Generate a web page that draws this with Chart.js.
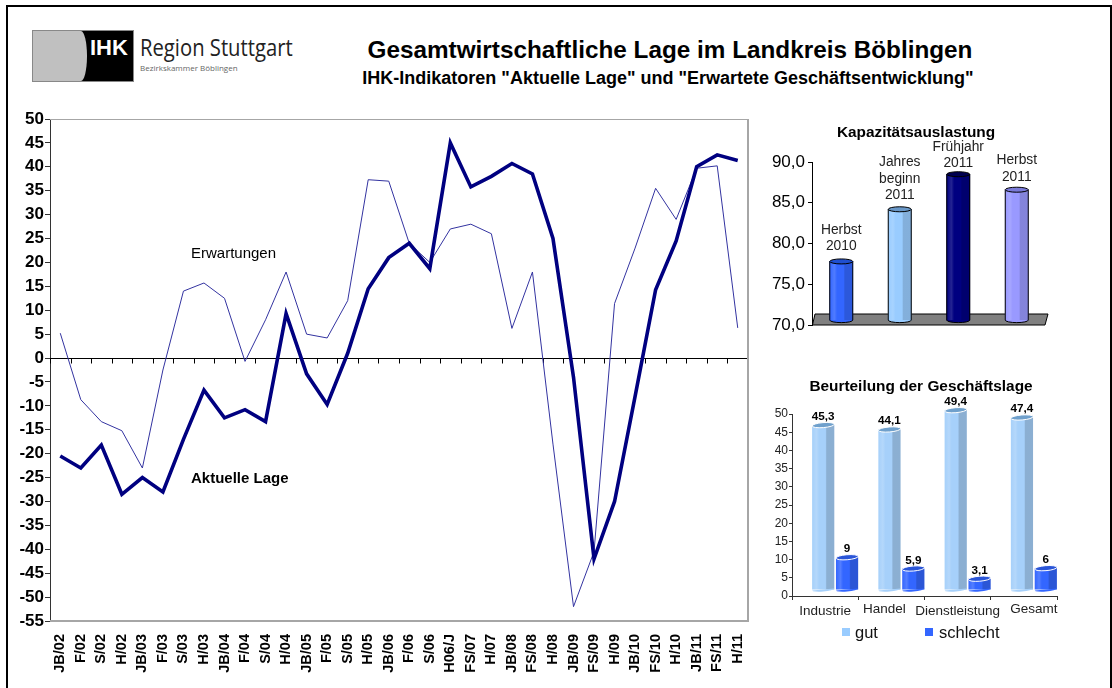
<!DOCTYPE html>
<html lang="de">
<head>
<meta charset="utf-8">
<title>Gesamtwirtschaftliche Lage im Landkreis Böblingen</title>
<script src="https://cdn.jsdelivr.net/npm/chart.js@4/dist/chart.umd.js"></script>
<style>
    html, body { margin: 0; padding: 0; background: #fff; }
    body { width: 1112px; height: 688px; position: relative; overflow: hidden; font-family: "Liberation Sans", Arial, sans-serif; color: #000; }
    .frame { position: absolute; left: 6px; top: 5px; width: 1102px; height: 700px; border: 2px solid #000; }
    .logo { position: absolute; left: 32px; top: 30px; width: 100px; height: 50px; background: #000; border: 1px solid #888; }
    .logo .grey { position: absolute; left: 0; top: 0; width: 54px; height: 50px; background: #c0c0c0; border-radius: 0 6px 6px 0 / 0 25px 25px 0; }
    .logo .ihk { position: absolute; left: 57px; top: 4px; color: #fff; font: bold 22px "Liberation Sans", Arial, sans-serif; }
    .region { position: absolute; left: 140px; top: 32px; font: 23px "Open Sans", sans-serif; transform: scaleX(.88); transform-origin: left; color: #222; white-space: nowrap; line-height: 30px; }
    .kammer { position: absolute; left: 140px; top: 62px; font: 8px "Open Sans", sans-serif; color: #666; white-space: nowrap; }
    .title { position: absolute; left: 302px; width: 736px; top: 37px; text-align: center; font-weight: bold; font-size: 24.3px; line-height: 26px; white-space: nowrap; }
    .subtitle { position: absolute; left: 300px; width: 736px; top: 69px; text-align: center; font-weight: bold; font-size: 18px; line-height: 18px; white-space: nowrap; }
    canvas { position: absolute; }
    .lbl { position: absolute; font-size: 15px; line-height: 16px; white-space: nowrap; }
    .ctitle { position: absolute; font-weight: bold; font-size: 15.4px; line-height: 16px; white-space: nowrap; text-align: center; }
    .legend { position: absolute; font-size: 16.5px; line-height: 18px; color: #111; white-space: nowrap; }
    .swatch { position: absolute; width: 8px; height: 8px; }
</style>
</head>
<body>
<div class="frame"></div>
<div class="logo"><div class="grey"></div><div class="ihk">IHK</div></div>
<div class="region">Region Stuttgart</div>
<div class="kammer">Bezirkskammer Böblingen</div>
<div class="title">Gesamtwirtschaftliche Lage im Landkreis Böblingen</div>
<div class="subtitle">IHK-Indikatoren "Aktuelle Lage" und "Erwartete Geschäftsentwicklung"</div>

<canvas id="mainChart" style="left:0;top:100px" width="760" height="580"></canvas>
<canvas id="capChart" style="left:750px;top:130px" width="360" height="205"></canvas>
<canvas id="judgeChart" style="left:750px;top:390px" width="330" height="235"></canvas>

<div class="lbl" style="left:191px;top:245px">Erwartungen</div>
<div class="lbl" style="left:191px;top:470px;font-weight:bold">Aktuelle Lage</div>
<div class="ctitle" style="left:826px;top:124px;width:180px">Kapazitätsauslastung</div>
<div class="ctitle" style="left:781px;top:378px;width:280px">Beurteilung der Geschäftslage</div>
<div class="swatch" style="left:842px;top:628px;background:#99ccff"></div>
<div class="legend" style="left:855px;top:623px">gut</div>
<div class="swatch" style="left:925px;top:628px;background:#3366ff"></div>
<div class="legend" style="left:939px;top:623px">schlecht</div>

<script>
// Hauptdiagramm
const quarters = ['JB/02','F/02','S/02','H/02','JB/03','F/03','S/03','H/03','JB/04','F/04','S/04','H/04','JB/05','F/05','S/05','H/05','JB/06','F/06','S/06','H06/J','FS/07','H/07','JB/08','FS/08','H/08','JB/09','FS/09','H/09','JB/10','FS/10','H/10','JB/11','FS/11','H/11'];
const aktuelleLage = [-20.5,-23,-18.2,-28.5,-25,-28,-17,-6.7,-12.5,-10.8,-13.3,9.3,-3.3,-9.7,1,14.5,21,24,18.7,45,35.8,38,40.7,38.5,25,-4,-42,-30,-8,14.3,24.5,40,42.5,41.3];
const erwartungen = [5.2,-8.7,-13.3,-15.2,-23,-2.5,14,15.7,12.5,-0.7,8,18,5,4.2,12,37.3,37,24,20,27,28,26,6.2,18,-18,-52,-40.5,11.4,23,35.5,29,39.7,40.2,6.3];

// Kapazitätsauslastung
const capLabels = [['Herbst','2010'],['Jahres','beginn','2011'],['Frühjahr','2011'],['Herbst','2011']];
const capValues = [77.8,84.2,88.5,86.6];
const capColors = ['#3366ff','#99ccff','#000080','#9999ff'];
const capTopColors = ['#1f4fd0','#6a98c8','#000050','#7a7ad8'];
const capLabelGap = [11,10,7,9];
const capTicks = [70,75,80,85,90];

// Beurteilung der Geschäftslage
const sectors = ['Industrie','Handel','Dienstleistung','Gesamt'];
const gut = [45.3,44.1,49.4,47.4];
const schlecht = [9,5.9,3.1,6];

const font = 'Liberation Sans, Arial, sans-serif';

// Helle und dunkle Streifen über den Balken, damit er wie ein Zylinder wirkt
function shadeBar(ctx, bar, strength) {
    const x0 = bar.x - bar.width / 2;
    const g = ctx.createLinearGradient(x0, 0, x0 + bar.width, 0);
    g.addColorStop(0, 'rgba(255,255,255,0)');
    g.addColorStop(0.2, `rgba(255,255,255,${strength})`);
    g.addColorStop(0.32, 'rgba(255,255,255,0)');
    g.addColorStop(0.6, 'rgba(0,0,0,0)');
    g.addColorStop(0.66, `rgba(0,0,0,${strength})`);
    g.addColorStop(1, `rgba(0,0,0,${strength})`);
    ctx.fillStyle = g;
    ctx.fillRect(x0, bar.y, bar.width, bar.base - bar.y);
}

// Hauptdiagramm: Nulllinie mit Strichen, grauer Rahmen
const zeroLine = {
    id: 'zeroLine',
    beforeDatasetsDraw(chart) {
        const {ctx, chartArea, scales} = chart;
        const y0 = Math.round(scales.y.getPixelForValue(0)) + 0.5;
        ctx.save();
        ctx.strokeStyle = '#000';
        ctx.lineWidth = 1;
        ctx.beginPath();
        ctx.moveTo(chartArea.left, y0);
        ctx.lineTo(chartArea.right, y0);
        for (let i = 0; i <= quarters.length; i++) {
            const x = Math.round(chartArea.left + i * (chartArea.right - chartArea.left) / quarters.length) + 0.5;
            ctx.moveTo(x, y0);
            ctx.lineTo(x, y0 + 5);
        }
        ctx.stroke();
        ctx.strokeStyle = '#a6a6a6';
        ctx.lineWidth = 2;
        ctx.beginPath();
        ctx.moveTo(chartArea.right, chartArea.top);
        ctx.lineTo(chartArea.right, chartArea.bottom);
        ctx.lineTo(chartArea.left, chartArea.bottom);
        ctx.stroke();
        ctx.lineWidth = 1;
        ctx.beginPath();
        ctx.moveTo(chartArea.left, chartArea.top + 0.5);
        ctx.lineTo(chartArea.right, chartArea.top + 0.5);
        ctx.stroke();
        ctx.restore();
    }
};

new Chart(document.getElementById('mainChart'), {
    type: 'line',
    data: {
        labels: quarters,
        datasets: [
            {label: 'Aktuelle Lage', data: aktuelleLage, borderColor: '#000080', borderWidth: 3.6, pointRadius: 0, tension: 0, order: 1},
            {label: 'Erwartungen', data: erwartungen, borderColor: '#3333a0', borderWidth: 1, pointRadius: 0, tension: 0, order: 2}
        ]
    },
    options: {
        responsive: false,
        animation: false,
        events: [],
        plugins: {legend: {display: false}, title: {display: false}, tooltip: {enabled: false}},
        layout: {padding: {left: 0, top: 19, right: 12, bottom: 0}},
        scales: {
            x: {
                offset: true,
                afterFit(scale) {
                    scale.height = 59;
                    scale.paddingLeft = 0;
                    scale.paddingRight = 0;
                },
                grid: {display: false},
                border: {display: false},
                ticks: {color: '#000', font: {family: font, size: 14.5, weight: 'bold'}, minRotation: 90, maxRotation: 90, autoSkip: false, padding: 5}
            },
            y: {
                min: -55,
                max: 50,
                afterFit(scale) { scale.width = 50; },
                afterBuildTicks(axis) {
                    axis.ticks = [];
                    for (let v = 50; v >= -55; v -= 5) axis.ticks.push({value: v});
                },
                grid: {drawOnChartArea: false, drawTicks: true, tickLength: 5, color: '#333'},
                border: {display: true, color: '#333', width: 1},
                ticks: {color: '#000', font: {family: font, size: 17, weight: 'bold'}, padding: 1}
            }
        }
    },
    plugins: [zeroLine]
});

// Kapazitätsauslastung: Bodenplatte, Zylinder und Beschriftung
const capDecor = {
    id: 'capDecor',
    beforeDatasetsDraw(chart) {
        const {ctx, chartArea, scales} = chart;
        const y = scales.y.getPixelForValue(70);
        ctx.save();
        ctx.fillStyle = '#808080';
        ctx.strokeStyle = '#000';
        ctx.lineWidth = 1;
        ctx.beginPath();
        ctx.moveTo(chartArea.left + 0.5, y);
        ctx.lineTo(chartArea.left + 3, y - 11);
        ctx.lineTo(chartArea.right + 2, y - 11);
        ctx.lineTo(chartArea.right - 1, y);
        ctx.closePath();
        ctx.fill();
        ctx.stroke();
        ctx.restore();
    },
    afterDatasetsDraw(chart) {
        const {ctx} = chart;
        ctx.save();
        chart.getDatasetMeta(0).data.forEach((bar, i) => {
            const rx = bar.width / 2;
            shadeBar(ctx, bar, 0.14);
            ctx.strokeStyle = '#000';
            ctx.lineWidth = 1;
            ctx.fillStyle = capColors[i];
            ctx.beginPath();
            ctx.ellipse(bar.x, bar.base, rx, 2.5, 0, 0, Math.PI);
            ctx.fill();
            ctx.stroke();
            ctx.beginPath();
            ctx.moveTo(bar.x - rx, bar.base);
            ctx.lineTo(bar.x - rx, bar.y);
            ctx.moveTo(bar.x + rx, bar.base);
            ctx.lineTo(bar.x + rx, bar.y);
            ctx.stroke();
            ctx.fillStyle = capTopColors[i];
            ctx.beginPath();
            ctx.ellipse(bar.x, bar.y, rx, 2.5, 0, 0, Math.PI * 2);
            ctx.fill();
            ctx.stroke();
            ctx.fillStyle = '#222';
            ctx.font = '13.8px ' + font;
            ctx.textAlign = 'center';
            const lines = capLabels[i];
            lines.forEach((line, k) => {
                ctx.fillText(line, bar.x, bar.y - capLabelGap[i] - (lines.length - 1 - k) * 16.7);
            });
        });
        ctx.restore();
    }
};

new Chart(document.getElementById('capChart'), {
    type: 'bar',
    data: {
        labels: capLabels.map(l => l.join(' ')),
        datasets: [{
            data: capValues,
            base: 70.6,
            barThickness: 23,
            borderWidth: 0,
            backgroundColor: capColors
        }]
    },
    options: {
        responsive: false,
        animation: false,
        events: [],
        plugins: {legend: {display: false}, title: {display: false}, tooltip: {enabled: false}},
        layout: {padding: {left: 0, top: 32, right: 64, bottom: 10}},
        scales: {
            x: {display: false},
            y: {
                min: 70,
                max: 90,
                afterFit(scale) {
                    scale.width = 62;
                    scale.paddingTop = 0;
                    scale.paddingBottom = 0;
                },
                afterBuildTicks(axis) { axis.ticks = capTicks.map(v => ({value: v})); },
                grid: {drawOnChartArea: false, drawTicks: true, tickLength: 4, color: '#000'},
                border: {display: true, color: '#000'},
                ticks: {color: '#000', font: {family: font, size: 17}, padding: 3, callback: v => v.toFixed(1).replace('.', ',')}
            }
        }
    },
    plugins: [capDecor]
});

// Beurteilung der Geschäftslage: Balken sind wie im 3D-Diagramm nach rechts oben versetzt
const sectorNudge = [0, -7, 0, 10];
const sectorDrop = [15, 13, 15, 13];
const judgeDecor = {
    id: 'judgeDecor',
    beforeDatasetsDraw(chart) {
        chart.ctx.save();
        chart.ctx.translate(10, -6);
    },
    afterDatasetsDraw(chart) {
        const {ctx, scales} = chart;
        const tops = ['#6fa0cc', '#2a55d8'];
        const sides = ['#a6d0fa', '#3366ff'];
        [0, 1].forEach(ds => {
            const values = ds === 0 ? gut : schlecht;
            chart.getDatasetMeta(ds).data.forEach((bar, i) => {
                const rx = bar.width / 2;
                shadeBar(ctx, bar, 0.16);
                ctx.fillStyle = sides[ds];
                ctx.beginPath();
                ctx.ellipse(bar.x, bar.base, rx, 2, -0.08, 0, Math.PI);
                ctx.fill();
                ctx.fillStyle = tops[ds];
                ctx.strokeStyle = '#fff';
                ctx.lineWidth = 1;
                ctx.beginPath();
                ctx.ellipse(bar.x, bar.y, rx, 2.5, -0.08, 0, Math.PI * 2);
                ctx.fill();
                ctx.stroke();
                ctx.fillStyle = '#000';
                ctx.font = 'bold 11.7px ' + font;
                ctx.textAlign = 'center';
                ctx.fillText(String(values[i]).replace('.', ','), bar.x, bar.y - 5);
            });
        });
        ctx.restore();

        // Kategorien sitzen im Original leicht versetzt
        ctx.save();
        ctx.fillStyle = '#222';
        ctx.font = '13.5px ' + font;
        ctx.textAlign = 'center';
        ctx.textBaseline = 'middle';
        sectors.forEach((name, i) => {
            ctx.fillText(name, scales.x.getPixelForValue(i) + sectorNudge[i], scales.y.bottom + sectorDrop[i]);
        });
        ctx.restore();
    }
};

new Chart(document.getElementById('judgeChart'), {
    type: 'bar',
    data: {
        labels: sectors,
        datasets: [
            {label: 'gut', data: gut, backgroundColor: '#a6d0fa', borderWidth: 0},
            {label: 'schlecht', data: schlecht, backgroundColor: '#3366ff', borderWidth: 0}
        ]
    },
    options: {
        responsive: false,
        animation: false,
        events: [],
        categoryPercentage: 0.72,
        barPercentage: 0.93,
        plugins: {title: {display: false}, tooltip: {enabled: false}, legend: {display: false}},
        layout: {padding: {left: 0, top: 24, right: 23, bottom: 0}},
        scales: {
            x: {
                afterFit(scale) { scale.height = 29; },
                grid: {drawOnChartArea: false, drawTicks: true, tickLength: 4, color: '#333', offset: true},
                border: {display: true, color: '#333'},
                ticks: {display: false}
            },
            y: {
                min: 0,
                max: 50,
                afterFit(scale) { scale.width = 42; },
                ticks: {stepSize: 5, color: '#222', font: {family: font, size: 12}, padding: 1},
                grid: {drawOnChartArea: false, drawTicks: true, tickLength: 3, color: '#333'},
                border: {display: true, color: '#333'}
            }
        }
    },
    plugins: [judgeDecor]
});
</script>
</body>
</html>
